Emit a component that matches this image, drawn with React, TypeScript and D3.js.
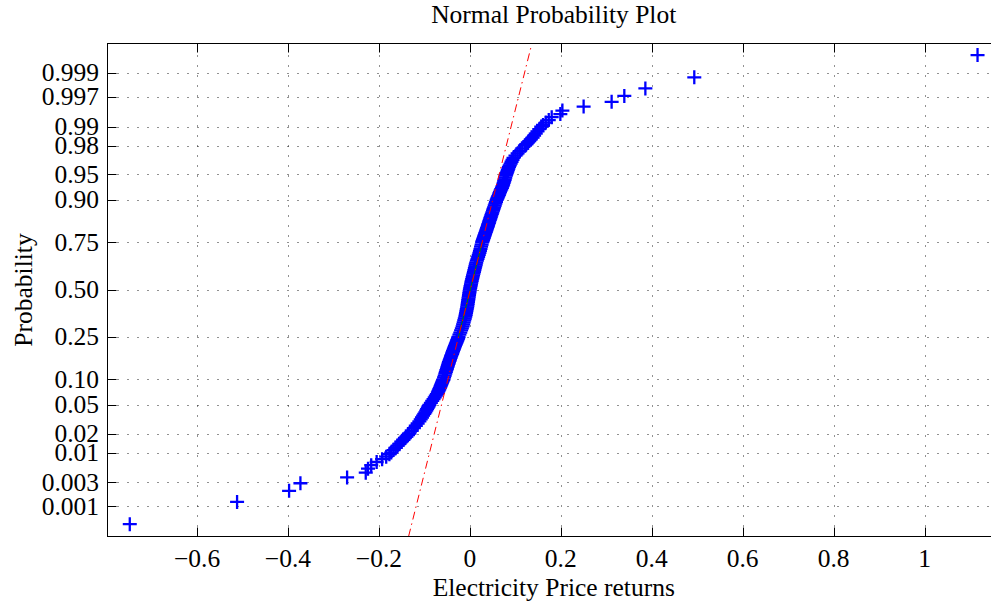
import React from "react";
import * as d3 from "d3";

// ---- data ----
const probabilities = [
  0.000408, 0.001224, 0.002041, 0.002857, 0.003673, 0.00449, 0.005306, 0.006122, 0.006939, 0.007755,
  0.008571, 0.009388, 0.01, 0.011, 0.012, 0.013, 0.014, 0.015, 0.016, 0.017,
  0.018, 0.019, 0.02, 0.022, 0.024, 0.026, 0.028, 0.03, 0.032, 0.034,
  0.036, 0.038, 0.04, 0.042, 0.044, 0.046, 0.048, 0.05, 0.053, 0.056,
  0.059, 0.062, 0.065, 0.068, 0.071, 0.074, 0.077, 0.08, 0.083, 0.086,
  0.089, 0.092, 0.095, 0.098, 0.1, 0.105, 0.11, 0.115, 0.12, 0.125,
  0.13, 0.135, 0.14, 0.145, 0.15, 0.155, 0.16, 0.165, 0.17, 0.175,
  0.18, 0.185, 0.19, 0.195, 0.2, 0.205, 0.21, 0.215, 0.22, 0.225,
  0.23, 0.235, 0.24, 0.245, 0.25, 0.26, 0.27, 0.28, 0.29, 0.3,
  0.31, 0.32, 0.33, 0.34, 0.35, 0.36, 0.37, 0.38, 0.39, 0.4,
  0.41, 0.42, 0.43, 0.44, 0.45, 0.46, 0.47, 0.48, 0.49, 0.5,
  0.51, 0.52, 0.53, 0.54, 0.55, 0.56, 0.57, 0.58, 0.59, 0.6,
  0.61, 0.62, 0.63, 0.64, 0.65, 0.66, 0.67, 0.68, 0.69, 0.7,
  0.71, 0.72, 0.73, 0.74, 0.75, 0.755, 0.76, 0.765, 0.77, 0.775,
  0.78, 0.785, 0.79, 0.795, 0.8, 0.805, 0.81, 0.815, 0.82, 0.825,
  0.83, 0.835, 0.84, 0.845, 0.85, 0.855, 0.86, 0.865, 0.87, 0.875,
  0.88, 0.885, 0.89, 0.895, 0.9, 0.903, 0.906, 0.909, 0.912, 0.915,
  0.918, 0.921, 0.924, 0.927, 0.93, 0.933, 0.936, 0.939, 0.942, 0.945,
  0.948, 0.95, 0.952, 0.954, 0.956, 0.958, 0.96, 0.962, 0.964, 0.966,
  0.968, 0.97, 0.972, 0.974, 0.976, 0.978, 0.98, 0.981, 0.982, 0.983,
  0.984, 0.985, 0.986, 0.987, 0.988, 0.989, 0.99, 0.990612, 0.991429, 0.992245,
  0.993061, 0.993878, 0.994694, 0.99551, 0.996327, 0.997143, 0.997959, 0.998776, 0.999592,
];

const returns = [
  -0.748, -0.512, -0.3976, -0.3727, -0.27, -0.229, -0.224, -0.217, -0.205, -0.193,
  -0.184, -0.177, -0.173, -0.1679, -0.1631, -0.1587, -0.1545, -0.1505, -0.1466, -0.1429,
  -0.1395, -0.1362, -0.133, -0.1279, -0.1232, -0.1189, -0.1148, -0.111, -0.1081, -0.1054,
  -0.1028, -0.1003, -0.098, -0.096, -0.0941, -0.0924, -0.0907, -0.089, -0.0858, -0.0828,
  -0.0799, -0.0773, -0.0749, -0.0725, -0.0704, -0.069, -0.0675, -0.066, -0.0648, -0.0636,
  -0.0624, -0.0612, -0.06, -0.0588, -0.058, -0.0567, -0.0553, -0.054, -0.0528, -0.0516,
  -0.0504, -0.0493, -0.0482, -0.0471, -0.046, -0.0448, -0.0436, -0.0425, -0.0414, -0.0403,
  -0.0391, -0.0381, -0.037, -0.036, -0.035, -0.0339, -0.0328, -0.0317, -0.0307, -0.0296,
  -0.0286, -0.0276, -0.0266, -0.0257, -0.025, -0.023, -0.0211, -0.0193, -0.0176, -0.016,
  -0.0148, -0.0136, -0.0124, -0.0112, -0.01, -0.0092, -0.0084, -0.0076, -0.0068, -0.006,
  -0.0054, -0.0048, -0.0042, -0.0036, -0.003, -0.0024, -0.0018, -0.0012, -0.0006, 0.0,
  0.0008, 0.0016, 0.0024, 0.0032, 0.004, 0.005, 0.006, 0.007, 0.008, 0.009,
  0.01, 0.011, 0.012, 0.013, 0.014, 0.0154, 0.0168, 0.0182, 0.0196, 0.021,
  0.0222, 0.0234, 0.0246, 0.0258, 0.027, 0.0279, 0.0287, 0.0296, 0.0305, 0.0313,
  0.0322, 0.0332, 0.0341, 0.035, 0.036, 0.0369, 0.0379, 0.0388, 0.0398, 0.0408,
  0.0418, 0.0428, 0.0438, 0.0449, 0.046, 0.0472, 0.0483, 0.0495, 0.0508, 0.052,
  0.0533, 0.0547, 0.0561, 0.0575, 0.059, 0.0602, 0.0614, 0.0626, 0.0638, 0.0649,
  0.0662, 0.0675, 0.069, 0.0705, 0.072, 0.0732, 0.0743, 0.0755, 0.0768, 0.0779,
  0.0792, 0.08, 0.0811, 0.0823, 0.0835, 0.0847, 0.086, 0.0878, 0.0897, 0.0917,
  0.0938, 0.096, 0.1003, 0.105, 0.1099, 0.1152, 0.121, 0.1241, 0.1273, 0.1307,
  0.1342, 0.138, 0.1413, 0.1448, 0.1486, 0.1526, 0.157, 0.161, 0.167, 0.1735,
  0.18, 0.199, 0.2035, 0.2502, 0.3118, 0.3397, 0.386, 0.4936, 1.1166,
];

const xLimits = [-0.797, 1.166];
const yLimits = [0.000213, 0.999778];
const xTicks = [-0.6, -0.4, -0.2, 0, 0.2, 0.4, 0.6, 0.8, 1];
const xTickLabels = ["\u22120.6", "\u22120.4", "\u22120.2", "0", "0.2", "0.4", "0.6", "0.8", "1"];
const yTicks = [0.001, 0.003, 0.01, 0.02, 0.05, 0.1, 0.25, 0.5, 0.75, 0.9, 0.95, 0.98, 0.99, 0.997, 0.999];
const yTickLabels = ["0.001", "0.003", "0.01", "0.02", "0.05", "0.10", "0.25", "0.50", "0.75", "0.90", "0.95", "0.98", "0.99", "0.997", "0.999"];

const titleText = "Normal Probability Plot";
const xLabelText = "Electricity Price returns";
const yLabelText = "Probability";

// inverse standard normal CDF (Acklam)
function norminv(p: number): number {
  const a = [-3.969683028665376e1, 2.209460984245205e2, -2.759285104469687e2, 1.38357751867269e2, -3.066479806614716e1, 2.506628277459239];
  const b = [-5.447609879822406e1, 1.615858368580409e2, -1.556989798598866e2, 6.680131188771972e1, -1.328068155288572e1];
  const c = [-7.784894002430293e-3, -3.223964580411365e-1, -2.400758277161838, -2.549671043352480, 4.374664141464968, 2.938163982698783];
  const d = [7.784695709041462e-3, 3.224671290700398e-1, 2.445134137142996, 3.754408661907416];
  const plow = 0.02425;
  if (p < plow) {
    const q = Math.sqrt(-2 * Math.log(p));
    return (((((c[0] * q + c[1]) * q + c[2]) * q + c[3]) * q + c[4]) * q + c[5]) / ((((d[0] * q + d[1]) * q + d[2]) * q + d[3]) * q + 1);
  }
  if (p <= 1 - plow) {
    const q = p - 0.5;
    const r = q * q;
    return ((((((a[0] * r + a[1]) * r + a[2]) * r + a[3]) * r + a[4]) * r + a[5]) * q) / (((((b[0] * r + b[1]) * r + b[2]) * r + b[3]) * r + b[4]) * r + 1);
  }
  const q = Math.sqrt(-2 * Math.log(1 - p));
  return -(((((c[0] * q + c[1]) * q + c[2]) * q + c[3]) * q + c[4]) * q + c[5]) / ((((d[0] * q + d[1]) * q + d[2]) * q + d[3]) * q + 1);
}

const W = 991;
const H = 603;
const left = 107.5;
const right = 1000;
const top = 43.5;
const bottom = 536.5;
const FONT = "'Liberation Serif', 'Times New Roman', serif";
const FS = 25.5;

export default function App() {
  const x = d3.scaleLinear().domain(xLimits).range([left, right]);
  const y = d3.scaleLinear().domain([norminv(yLimits[0]), norminv(yLimits[1])]).range([bottom, top]);
  const py = (p: number) => y(norminv(p));

  const i1 = probabilities.indexOf(0.25);
  const i3 = probabilities.indexOf(0.75);
  const q1 = returns[i1];
  const q3 = returns[i3];
  const z1 = norminv(0.25);
  const z3 = norminv(0.75);
  const fitX = (z: number) => q1 + ((q3 - q1) * (z - z1)) / (z3 - z1);
  const zLo = norminv(yLimits[0]);
  const zHi = norminv(0.99974);
  const line = d3.line<[number, number]>().x((d) => d[0]).y((d) => d[1]);
  const redPath = line([
    [x(fitX(zLo)), y(zLo)],
    [x(fitX(zHi)), y(zHi)],
  ]);
  const greenPath = line([
    [x(q1), y(z1)],
    [x(q3), y(z3)],
  ]);

  const marker = "M-7,0H7M0,-7V7";
  const tickLen = 9;

  return (
    <div style={{ position: "absolute", left: 0, top: 0 }}>
      <svg width={W} height={H} style={{ display: "block", background: "#fff" }} fontFamily={FONT}>
        <rect x={0} y={0} width={W} height={H} fill="#fff" />
        {/* grid */}
        <g stroke="#222" strokeWidth={1} strokeDasharray="1,9" fill="none">
          {xTicks.map((t) => (
            <line key={"gx" + t} x1={Math.round(x(t)) + 0.5} x2={Math.round(x(t)) + 0.5} y1={bottom} y2={top} />
          ))}
          {yTicks.map((t) => (
            <line key={"gy" + t} x1={left} x2={right} y1={Math.round(py(t)) + 0.5} y2={Math.round(py(t)) + 0.5} />
          ))}
        </g>
        {/* data */}
        <g stroke="#0000ff" strokeWidth={2.3} fill="none">
          {returns.map((v, i) => (
            <path key={"m" + i} d={marker} transform={`translate(${x(v)},${py(probabilities[i])})`} />
          ))}
        </g>
        {/* fit lines */}
        <path d={greenPath || ""} stroke="#008000" strokeWidth={1} fill="none" />
        <path d={redPath || ""} stroke="#ff0000" strokeWidth={1} fill="none" strokeDasharray="8,4,1.5,4" />
        {/* axes box */}
        <rect x={left} y={top} width={right - left} height={bottom - top} fill="none" stroke="#000" strokeWidth={1} />
        {/* ticks */}
        <g stroke="#000" strokeWidth={1}>
          {xTicks.map((t) => (
            <g key={"tx" + t}>
              <line x1={Math.round(x(t)) + 0.5} x2={Math.round(x(t)) + 0.5} y1={bottom} y2={bottom - tickLen} />
              <line x1={Math.round(x(t)) + 0.5} x2={Math.round(x(t)) + 0.5} y1={top} y2={top + tickLen} />
            </g>
          ))}
          {yTicks.map((t) => (
            <g key={"ty" + t}>
              <line x1={left} x2={left + tickLen} y1={Math.round(py(t)) + 0.5} y2={Math.round(py(t)) + 0.5} />
              <line x1={right} x2={right - tickLen} y1={Math.round(py(t)) + 0.5} y2={Math.round(py(t)) + 0.5} />
            </g>
          ))}
        </g>
        {/* tick labels */}
        <g fontSize={FS} fill="#000">
          {xTicks.map((t, i) => (
            <text key={"lx" + t} x={x(t)} y={567} textAnchor="middle">
              {xTickLabels[i]}
            </text>
          ))}
          {yTicks.map((t, i) => (
            <text key={"ly" + t} x={99} y={py(t)} dy="0.33em" textAnchor="end">
              {yTickLabels[i]}
            </text>
          ))}
        </g>
        {/* labels */}
        <text x={(left + right) / 2} y={23} textAnchor="middle" fontSize={FS} fill="#000">
          {titleText}
        </text>
        <text x={(left + right) / 2} y={596} textAnchor="middle" fontSize={FS} fill="#000">
          {xLabelText}
        </text>
        <text transform={`translate(32,${(top + bottom) / 2}) rotate(-90)`} textAnchor="middle" fontSize={FS} fill="#000">
          {yLabelText}
        </text>
      </svg>
    </div>
  );
}
